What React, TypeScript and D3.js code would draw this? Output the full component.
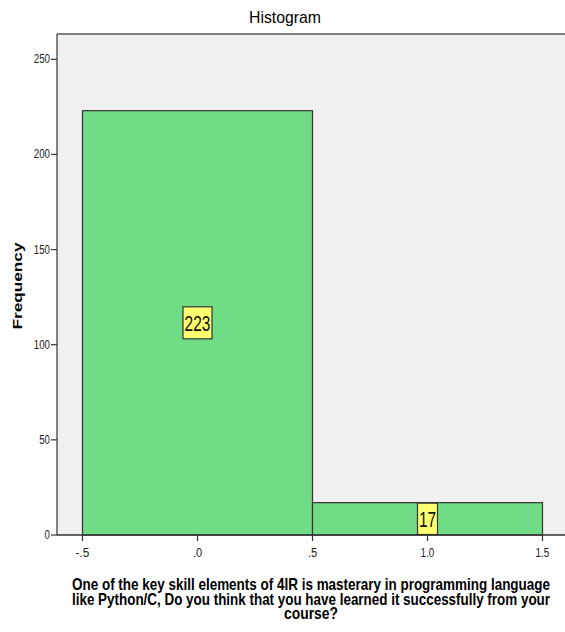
import React from "react";
import * as d3 from "d3";

const binStarts = [-0.5, 0.5];
const binEnds = [0.5, 1.5];
const frequencies = [223, 17];
const xTicks = [-0.5, 0, 0.5, 1.0, 1.5];
const xTickLabels = ["-.5", ".0", ".5", "1.0", "1.5"];
const yTicks = [0, 50, 100, 150, 200, 250];
const titleText = "Histogram";
const yLabel = "Frequency";
const xLabelLines = [
  "One of the key skill elements of 4IR is masterary in programming language",
  "like Python/C, Do you think that you have learned it successfully from your",
  "course?",
];

const W = 565;
const H = 632;
const left = 57;
const top = 34;
const right = 566;
const bottom = 535;
const sans = "'Liberation Sans', Arial, sans-serif";

export default function App() {
  const x = d3.scaleLinear().domain([-0.5, 1.5]).range([82.5, 542.5]);
  const y = d3.scaleLinear().domain([0, 250]).range([bottom, 59.3]);
  const xLabelWidths = [478, 478, 54];
  return (
    <svg width={W} height={H} style={{ position: "absolute", left: 0, top: 0, background: "#fff" }}>
      <text x={249} y={23} textLength={72} lengthAdjust="spacingAndGlyphs" fontFamily={sans} fontSize={17} fill="#000">{titleText}</text>
      <rect x={left} y={top} width={right - left} height={bottom - top} fill="#F0F0F0" />
      <line x1={left} x2={right} y1={top} y2={top} stroke="#808080" strokeWidth={2} />
      <line x1={left} x2={left} y1={top} y2={bottom} stroke="#333" strokeWidth={1.2} />
      {frequencies.map((f, i) => (
        <rect key={i} x={x(binStarts[i])} y={y(f)} width={x(binEnds[i]) - x(binStarts[i])} height={bottom - y(f)}
          fill="#70DC86" stroke="#333" strokeWidth={1.2} />
      ))}
      <line x1={left} x2={right} y1={bottom} y2={bottom} stroke="#333" strokeWidth={1.5} />
      {yTicks.map((t) => {
        const s = String(t);
        return (
          <g key={t}>
            <line x1={left - 6} x2={left} y1={y(t)} y2={y(t)} stroke="#333" strokeWidth={1.2} />
            <text x={left - 7} y={y(t) + 4} textAnchor="end" textLength={s.length * 5.4} lengthAdjust="spacingAndGlyphs"
              fontFamily={sans} fontSize={12} fill="#222">{s}</text>
          </g>
        );
      })}
      {xTicks.map((t, i) => {
        const s = xTickLabels[i];
        return (
          <g key={i}>
            <line x1={x(t)} x2={x(t)} y1={bottom} y2={bottom + 6} stroke="#333" strokeWidth={1.2} />
            <text x={x(t) - (s.length * 4.6) / 2} y={bottom + 22} textLength={s.length * 4.6} lengthAdjust="spacingAndGlyphs"
              fontFamily={sans} fontSize={12} fill="#222">{s}</text>
          </g>
        );
      })}
      {frequencies.map((f, i) => {
        const cx = x((binStarts[i] + binEnds[i]) / 2);
        const cy = (y(f) + bottom) / 2;
        const label = String(f);
        const bw = label.length * 9 + 2;
        const bh = Math.min(32, bottom - y(f) - 1);
        const tw = label.length * 8.6;
        return (
          <g key={"l" + i}>
            <rect x={cx - bw / 2} y={cy - bh / 2} width={bw} height={bh} fill="#FFFF70" stroke="#333" strokeWidth={1.2} />
            <text x={cx - tw / 2} y={cy + 8} textLength={tw} lengthAdjust="spacingAndGlyphs" fontFamily={sans} fontSize={22} fill="#111">{label}</text>
          </g>
        );
      })}
      <text transform={`translate(22,286) rotate(-90)`} x={-43.5} textLength={87} lengthAdjust="spacingAndGlyphs"
        fontFamily={sans} fontWeight="bold" fontSize={13} fill="#000">{yLabel}</text>
      {xLabelLines.map((l, i) => (
        <g key={i} transform={`translate(311,${590 + i * 14.5}) scale(1,1.22)`}>
          <text x={-xLabelWidths[i] / 2} y={0} textLength={xLabelWidths[i]} lengthAdjust="spacingAndGlyphs"
            fontFamily={sans} fontWeight="bold" fontSize={13} fill="#000">{l}</text>
        </g>
      ))}
    </svg>
  );
}
